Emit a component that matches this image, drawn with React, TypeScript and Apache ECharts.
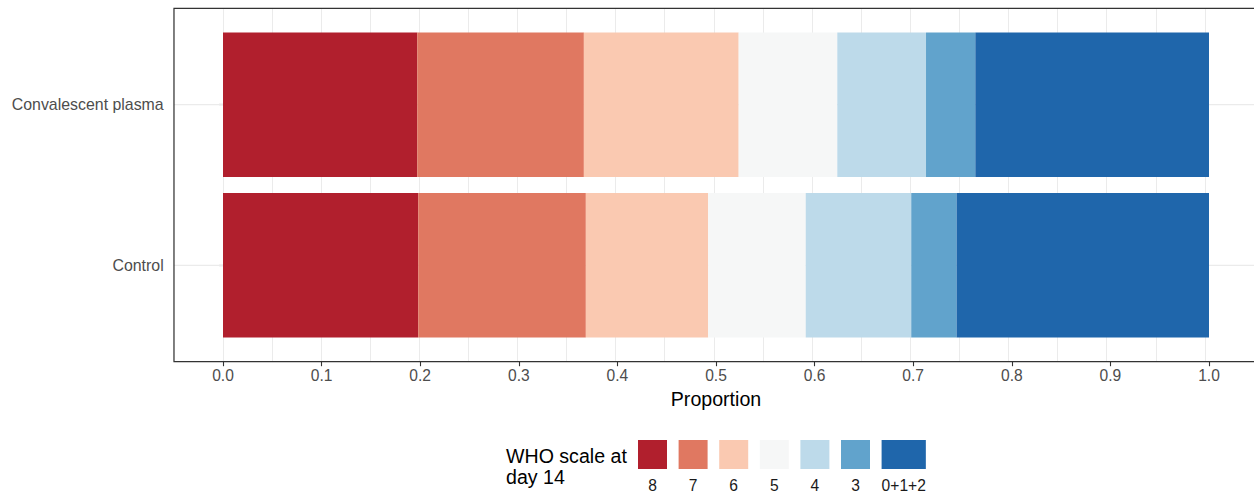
import React, { useEffect, useRef } from "react";
import * as echarts from "echarts";

// ---- data ----
const categories = ["Control", "Convalescent plasma"];
const levels = ["8", "7", "6", "5", "4", "3", "0+1+2"];
const levelColors = ["#B11F2D", "#E07861", "#FAC9B1", "#F6F7F7", "#BDDAEA", "#61A3CC", "#1F66AB"];
const controlValues = [0.198, 0.17, 0.124, 0.099, 0.107, 0.046, 0.256];
const plasmaValues = [0.197, 0.169, 0.157, 0.1, 0.09, 0.05, 0.237];
const xMin = 0;
const xMax = 1;
const xStep = 0.1;
const legendTitle = "WHO scale at\nday 14";
const xTitle = "Proportion";

const FONT = "Liberation Sans, Arial, sans-serif";

// layout
const X0 = 223; // pixel of 0.0
const X1 = 1209; // pixel of 1.0
const PX = X1 - X0;
const PANEL_TOP = 8.3;
const PANEL_BOTTOM = 361.7;
const PANEL_H = PANEL_BOTTOM - PANEL_TOP;
const BAND = PANEL_H / 2.2;

function charW(ch: string, size: number) {
  if (ch === "+") return 0.584 * size;
  return 0.556 * size;
}

export default function App() {
  const ref = useRef<HTMLDivElement>(null);
  useEffect(() => {
    if (!ref.current) return;
    const chart = echarts.init(ref.current, undefined, { renderer: "svg" });

    const graphics: any[] = [];
    // panel border
    graphics.push({
      type: "rect",
      z: 100,
      silent: true,
      shape: {
        x: X0 - 0.05 * PX + 0.3,
        y: PANEL_TOP,
        width: 1.1 * PX,
        height: PANEL_H,
      },
      style: { fill: "none", stroke: "#333333", lineWidth: 1.2 },
    });

    // legend built from levels/colors
    const labelSize = 15.6;
    let lx = 638;
    levels.forEach((lvl, i) => {
      const tw = lvl.split("").reduce((s, c) => s + charW(c, labelSize), 0);
      const w = Math.max(29, tw);
      graphics.push({
        type: "rect",
        shape: { x: lx, y: 440, width: w, height: 29 },
        style: { fill: levelColors[i] },
      });
      graphics.push({
        type: "text",
        x: lx + w / 2,
        y: 485,
        style: {
          text: lvl,
          fontSize: labelSize,
          lineHeight: 12,
          fontFamily: FONT,
          fill: "#1A1A1A",
          align: "center",
          verticalAlign: "middle",
        },
      });
      lx += w + 11.6;
    });
    graphics.push({
      type: "text",
      x: 506,
      y: 445.7,
      style: {
        text: legendTitle,
        fontSize: 19.6,
        lineHeight: 21,
        fontFamily: FONT,
        fill: "#000000",
        align: "left",
        verticalAlign: "top",
      },
    });

    const barSeries = levels.map((lvl, i) => ({
      type: "bar",
      name: lvl,
      stack: "total",
      xAxisIndex: 1,
      yAxisIndex: 1,
      barWidth: BAND * 0.9,
      itemStyle: { color: levelColors[i] },
      data: [controlValues[i], plasmaValues[i]],
      z: 3,
      silent: true,
    }));

    const gridLineSeries = categories.map((c, k) => ({
      type: "line",
      name: "grid-" + c,
      xAxisIndex: 1,
      yAxisIndex: 1,
      clip: false,
      symbol: "none",
      silent: true,
      z: 1,
      lineStyle: { color: "#EBEBEB", width: 1.2 },
      data: [
        [xMin - 0.05, k],
        [xMax + 0.05, k],
      ],
    }));

    chart.setOption({
      animation: false,
      textStyle: { fontFamily: FONT },
      grid: [
        {
          left: X0 - 0.05 * PX,
          top: PANEL_TOP,
          width: 1.1 * PX,
          height: PANEL_H,
          show: false,
        },
        {
          left: X0,
          top: PANEL_TOP + 0.1 * BAND,
          width: PX,
          height: 2 * BAND,
        },
      ],
      xAxis: [
        {
          type: "value",
          gridIndex: 0,
          min: xMin - 0.05,
          max: xMax + 0.05,
          interval: xStep / 2,
          axisLine: { show: false },
          axisTick: { show: false },
          axisLabel: { show: false },
          splitLine: { show: true, lineStyle: { color: "#EBEBEB", width: 1 } },
        },
        {
          type: "value",
          gridIndex: 1,
          min: xMin,
          max: xMax,
          interval: xStep,
          position: "bottom",
          offset: 0.1 * BAND,
          axisLine: { show: false },
          axisTick: { show: true, length: 4.5, lineStyle: { color: "#333333", width: 1.1 } },
          axisLabel: {
            margin: 6,
            fontSize: 15.6,
            color: "#4D4D4D",
            fontFamily: FONT,
            formatter: (v: number) => v.toFixed(1),
          },
          splitLine: { show: false },
          name: xTitle,
          nameLocation: "middle",
          nameGap: 26,
          nameTextStyle: { fontSize: 19.6, color: "#000000", fontFamily: FONT },
        },
      ],
      yAxis: [
        {
          type: "value",
          gridIndex: 0,
          min: 0,
          max: 1,
          show: false,
          splitLine: { show: false },
        },
        {
          type: "category",
          gridIndex: 1,
          data: categories,
          position: "left",
          offset: 0.05 * PX,
          axisLine: { show: false },
          axisTick: {
            show: true,
            alignWithLabel: true,
            length: 4.5,
            lineStyle: { color: "#333333", width: 1.1 },
          },
          axisLabel: {
            margin: 10,
            fontSize: 15.9,
            color: "#4D4D4D",
            fontFamily: FONT,
          },
          splitLine: { show: false },
        },
      ],
      series: [...gridLineSeries, ...barSeries],
      graphic: graphics,
    });

    return () => chart.dispose();
  }, []);

  return (
    <div
      ref={ref}
      style={{ position: "absolute", left: 0, top: 0, width: 1254, height: 492, background: "#ffffff" }}
    />
  );
}
